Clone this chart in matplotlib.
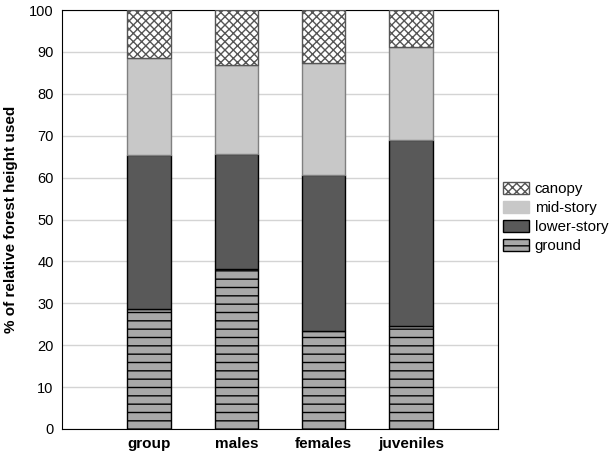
import matplotlib.pyplot as plt
from matplotlib.patches import Patch

plt.rcParams['font.family'] = ['Liberation Sans', 'DejaVu Sans']
plt.rcParams['hatch.linewidth'] = 1.0

groups = ["group", "males", "females", "juveniles"]
ground = [28.7, 38.3, 23.5, 24.5]
lower_story = [36.6, 27.4, 37.2, 44.5]
mid_story = [23.2, 21.3, 26.6, 22.3]
canopy = [11.5, 13.0, 12.7, 8.7]

fig = plt.figure(figsize=(6.15, 4.57), dpi=100)
ax = fig.add_axes([0.1008, 0.0613, 0.709, 0.9167])

x = range(len(groups))
w = 0.5
b1 = ground
b2 = [g + l for g, l in zip(ground, lower_story)]
b3 = [a + m for a, m in zip(b2, mid_story)]

ax.bar(x, ground, w, color="#a8a8a8", edgecolor="black", hatch="--", linewidth=1, zorder=3)
ax.bar(x, lower_story, w, bottom=b1, color="#595959", edgecolor="black", linewidth=1, zorder=3)
ax.bar(x, mid_story, w, bottom=b2, color="#c8c8c8", edgecolor="#808080", linewidth=1, zorder=3)
ax.bar(x, canopy, w, bottom=b3, color="white", edgecolor="#555555", hatch="xxxx", linewidth=1, zorder=3)

ax.set_xlim(-1, 4)
ax.set_ylim(0, 100)
ax.set_yticks(range(0, 101, 10))
ax.set_xticks(list(x))
ax.set_xticklabels(groups, fontsize=11, fontweight="bold")
ax.tick_params(axis="y", labelsize=10.5, length=0, pad=6)
ax.tick_params(axis="x", length=0, pad=6)
ax.grid(axis="y", color="#d4d4d4", linewidth=1, zorder=0)
ax.set_ylabel("% of relative forest height used", fontsize=11, fontweight="bold", labelpad=8)

handles = [
    Patch(facecolor="white", edgecolor="#555555", hatch="xxxx", label="canopy"),
    Patch(facecolor="#c8c8c8", edgecolor="#c8c8c8", label="mid-story"),
    Patch(facecolor="#595959", edgecolor="black", label="lower-story"),
    Patch(facecolor="#a8a8a8", edgecolor="black", hatch="--", label="ground"),
]
ax.legend(handles=handles, loc="center left", bbox_to_anchor=(1.0, 0.505), frameon=False,
          fontsize=10.8, handlelength=1.7, handleheight=0.9, handletextpad=0.4,
          labelspacing=0.3, borderaxespad=0.05, borderpad=0.3)

fig.savefig("out.png", dpi=100)
